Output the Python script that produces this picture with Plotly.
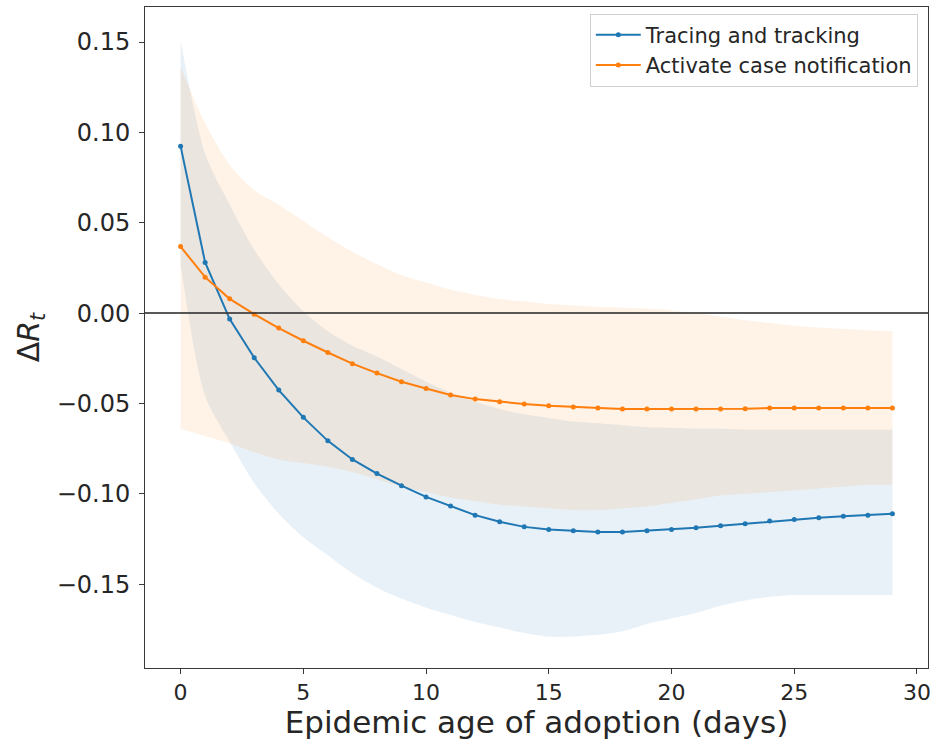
import plotly.graph_objects as go

days = list(range(30))

tracing_mean = [0.0924, 0.0280, -0.0033, -0.0247, -0.0426, -0.0577, -0.0707, -0.0810,
                -0.0888, -0.0955, -0.1017, -0.1068, -0.1118, -0.1155, -0.1183, -0.1198,
                -0.1205, -0.1212, -0.1212, -0.1205, -0.1198, -0.1188, -0.1177, -0.1166,
                -0.1151, -0.1142, -0.1133, -0.1124, -0.1118, -0.1111]
tracing_upper = [0.151, 0.088, 0.060, 0.035, 0.016, 0.001, -0.010, -0.018,
                 -0.024, -0.031, -0.038, -0.044, -0.049, -0.053, -0.056, -0.058,
                 -0.060, -0.061, -0.062, -0.063, -0.0635, -0.064, -0.064, -0.0645,
                 -0.0645, -0.0645, -0.0645, -0.0645, -0.0645, -0.0645]
tracing_lower = [0.027, -0.046, -0.071, -0.094, -0.111, -0.124, -0.134, -0.144,
                 -0.152, -0.158, -0.163, -0.167, -0.171, -0.174, -0.177, -0.179,
                 -0.179, -0.178, -0.176, -0.172, -0.169, -0.166, -0.162, -0.159,
                 -0.157, -0.156, -0.156, -0.156, -0.156, -0.156]

notif_mean = [0.0368, 0.0199, 0.0079, -0.0006, -0.0083, -0.0153, -0.0218, -0.0280,
              -0.0332, -0.0380, -0.0417, -0.0453, -0.0476, -0.0490, -0.0503, -0.0513,
              -0.0520, -0.0525, -0.0531, -0.0531, -0.0531, -0.0531, -0.0531, -0.0529,
              -0.0525, -0.0525, -0.0525, -0.0525, -0.0525, -0.0525]
notif_upper = [0.136, 0.105, 0.082, 0.068, 0.060, 0.051, 0.042, 0.034,
               0.027, 0.021, 0.017, 0.013, 0.010, 0.0078, 0.0065, 0.0050,
               0.0042, 0.0035, 0.0030, 0.0025, 0.0015, 0.0, -0.002, -0.004,
               -0.0055, -0.007, -0.008, -0.0088, -0.0095, -0.0100]
notif_lower = [-0.064, -0.068, -0.072, -0.077, -0.081, -0.083, -0.085, -0.088,
               -0.092, -0.096, -0.099, -0.102, -0.104, -0.106, -0.107, -0.108,
               -0.109, -0.109, -0.108, -0.107, -0.105, -0.103, -0.101, -0.100,
               -0.099, -0.098, -0.097, -0.096, -0.095, -0.095]

series_names = ["Tracing and tracking", "Activate case notification"]
x_ticks = [0, 5, 10, 15, 20, 25, 30]
y_ticks = [-0.15, -0.10, -0.05, 0.00, 0.05, 0.10, 0.15]

BLUE = "#1f77b4"
ORANGE = "#ff7f0e"
FONT = "DejaVu Sans"
TXT = "#262626"

fig = go.Figure()

# confidence bands (lower edge, then upper edge filled down to it)
for upper, lower, rgba in [(tracing_upper, tracing_lower, "rgba(31,119,180,0.1)"),
                           (notif_upper, notif_lower, "rgba(255,127,14,0.1)")]:
    fig.add_trace(go.Scatter(
        x=days, y=lower, mode="lines", line=dict(width=0, shape="spline", smoothing=0.8),
        showlegend=False, hoverinfo="skip"))
    fig.add_trace(go.Scatter(
        x=days, y=upper, mode="lines", line=dict(width=0, shape="spline", smoothing=0.8),
        fill="tonexty", fillcolor=rgba, showlegend=False, hoverinfo="skip"))

# zero line
fig.add_hline(y=0, line=dict(color="rgba(60,60,60,0.85)", width=2))

for name, vals, col in [(series_names[0], tracing_mean, BLUE),
                        (series_names[1], notif_mean, ORANGE)]:
    fig.add_trace(go.Scatter(
        x=days, y=vals, name=name, mode="lines+markers",
        line=dict(color=col, width=2), marker=dict(color=col, size=5)))

axis_common = dict(
    showgrid=False, zeroline=False, showline=True, mirror=True,
    linecolor="#3a3a3a", linewidth=1, ticks="outside", ticklen=5,
    tickcolor="#3a3a3a", tickwidth=1)

fig.update_xaxes(range=[-1.45, 30.45], tickvals=x_ticks,
                 tickfont=dict(family=FONT, size=22, color=TXT),
                 title=dict(text="Epidemic age of adoption (days)",
                            font=dict(family=FONT, size=31, color=TXT),
                            standoff=6),
                 **axis_common)
fig.update_yaxes(range=[-0.1964, 0.1694], tickvals=y_ticks,
                 ticktext=[("\u2212" if v < 0 else "") + f"{abs(v):.2f}" for v in y_ticks],
                 tickfont=dict(family=FONT, size=24, color=TXT),
                 ticklabelstandoff=4,
                 title=dict(text="\u0394<i>R</i><sub><i>t</i></sub>",
                            font=dict(family=FONT, size=30, color=TXT),
                            standoff=8),
                 **axis_common)

fig.update_layout(
    width=938, height=740,
    margin=dict(l=145, r=10, t=7, b=72),
    plot_bgcolor="white", paper_bgcolor="white",
    legend=dict(x=0.987, y=0.99, xanchor="right", yanchor="top",
                traceorder="normal",
                bgcolor="rgba(255,255,255,0.9)", bordercolor="#d0d0d0", borderwidth=1,
                font=dict(family=FONT, size=21, color=TXT),
                itemwidth=45, tracegroupgap=0),
    showlegend=True,
)

fig.write_html("out.html")
